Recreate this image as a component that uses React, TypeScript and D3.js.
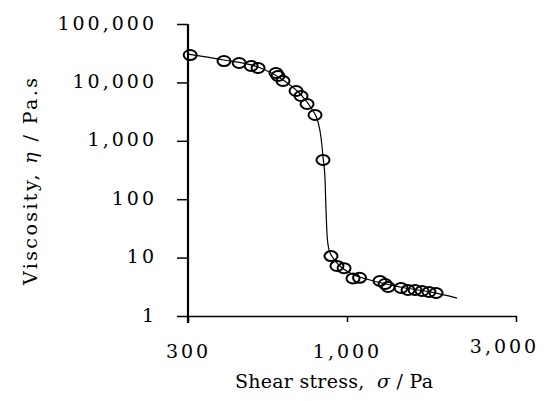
import * as d3 from "d3";
import {useRef, useEffect} from "react";

// shear stress (Pa) and viscosity (Pa.s)
const stress = [305, 394, 442, 484, 510, 584, 593, 616, 680, 706, 739, 785, 834,
    886, 927, 978, 1040, 1085, 1239, 1281, 1306, 1421, 1487, 1556, 1629, 1704, 1784];
const viscosity = [29400, 23200, 21500, 19100, 17650, 14500, 12880, 10570, 7120, 5850, 4270, 2770, 469,
    10.6, 7.2, 6.6, 4.4, 4.5, 3.97, 3.53, 3.14, 3.02, 2.79, 2.79, 2.68, 2.58, 2.48];

// fitted curve
const fitStress = [300, 394, 510, 616, 706, 762, 803, 821, 834, 847, 853, 860, 873, 900, 948, 1020, 1161, 1411, 1716, 2045];
const fitViscosity = [30600, 24200, 18360, 11000, 6090, 3645, 2099, 1162, 528, 213, 65, 24.4, 13.5, 9.84, 7.18, 5.45, 4.13, 3.14, 2.58, 2.03];

const stressTicks = [300, 1000, 3000];
const viscosityTicks = [1, 10, 100, 1000, 10000, 100000];

const font = "'DejaVu Serif', serif";

export default function App() {
    const svgRef = useRef<SVGSVGElement>(null);
    const width = 547;
    const height = 401;

    useEffect(() => {
        const svg = d3.select(svgRef.current);
        svg.selectAll("*").remove();

        const x = d3.scaleLog().domain(stressTicks).range([188, 347, 516]);
        const y = d3.scaleLog().domain([1, 100000]).range([316, 24]);

        // y axis
        const yAxis = svg.append("g")
            .attr("transform", "translate(188,0)")
            .call(d3.axisLeft(y).tickValues(viscosityTicks).tickFormat(d3.format(",")).tickSize(11).tickPadding(20));
        yAxis.select(".domain").remove();
        yAxis.attr("font-family", font).attr("font-size", 19);
        yAxis.selectAll(".tick line").attr("stroke", "#000").attr("stroke-width", 1.5);
        yAxis.selectAll(".tick text").attr("dy", 5).attr("letter-spacing", 3).attr("fill", "#000");
        yAxis.append("line")
            .attr("x1", 0).attr("x2", 0)
            .attr("y1", y(100000)).attr("y2", y(1) + 7)
            .attr("stroke", "#000").attr("stroke-width", 2.2);

        // x axis
        const xAxis = svg.append("g")
            .attr("transform", "translate(0,316)")
            .call(d3.axisBottom(x).tickValues(stressTicks).tickFormat(d3.format(",")).tickSize(6).tickSizeOuter(0));
        xAxis.attr("font-family", font).attr("font-size", 19);
        xAxis.select(".domain").attr("stroke", "#000").attr("stroke-width", 1.5);
        xAxis.selectAll(".tick line").attr("stroke", "#000").attr("stroke-width", 1.5);
        xAxis.selectAll(".tick text")
            .attr("y", 42).attr("dy", 0).attr("letter-spacing", 3).attr("fill", "#000")
            .attr("dx", (_d, i) => (i === 2 ? -12 : 0))
            .attr("transform", (_d, i) => (i === 2 ? "translate(0,-5)" : null));

        // fitted curve
        const line = d3.line<number>()
            .x(i => x(fitStress[i]))
            .y(i => y(fitViscosity[i]))
            .curve(d3.curveMonotoneX);
        svg.append("path")
            .datum(d3.range(fitStress.length))
            .attr("fill", "none")
            .attr("stroke", "#000")
            .attr("stroke-width", 1.2)
            .attr("d", line);

        // data points
        svg.append("g")
            .selectAll("ellipse")
            .data(d3.range(stress.length))
            .join("ellipse")
            .attr("cx", i => x(stress[i]))
            .attr("cy", i => y(viscosity[i]))
            .attr("rx", 6.5)
            .attr("ry", 5)
            .attr("fill", "none")
            .attr("stroke", "#000")
            .attr("stroke-width", 2);

        // axis titles
        const xt = svg.append("text")
            .attr("x", 235).attr("y", 388)
            .attr("font-family", font).attr("font-size", 19)
            .attr("textLength", 198)
            .style("white-space", "pre");
        xt.append("tspan").text("Shear stress,  ");
        xt.append("tspan").attr("font-style", "italic").text("σ");
        xt.append("tspan").text(" / Pa");

        const yt = svg.append("text")
            .attr("transform", "translate(37,285) rotate(-90)")
            .attr("font-family", font).attr("font-size", 19)
            .attr("textLength", 207)
            .style("white-space", "pre");
        yt.append("tspan").text("Viscosity, ");
        yt.append("tspan").attr("font-style", "italic").text("η");
        yt.append("tspan").text(" / Pa.s");
    }, []);

    return (
        <svg ref={svgRef} width={width} height={height}
             style={{position: "absolute", left: 0, top: 0, background: "#fff"}} />
    );
}
